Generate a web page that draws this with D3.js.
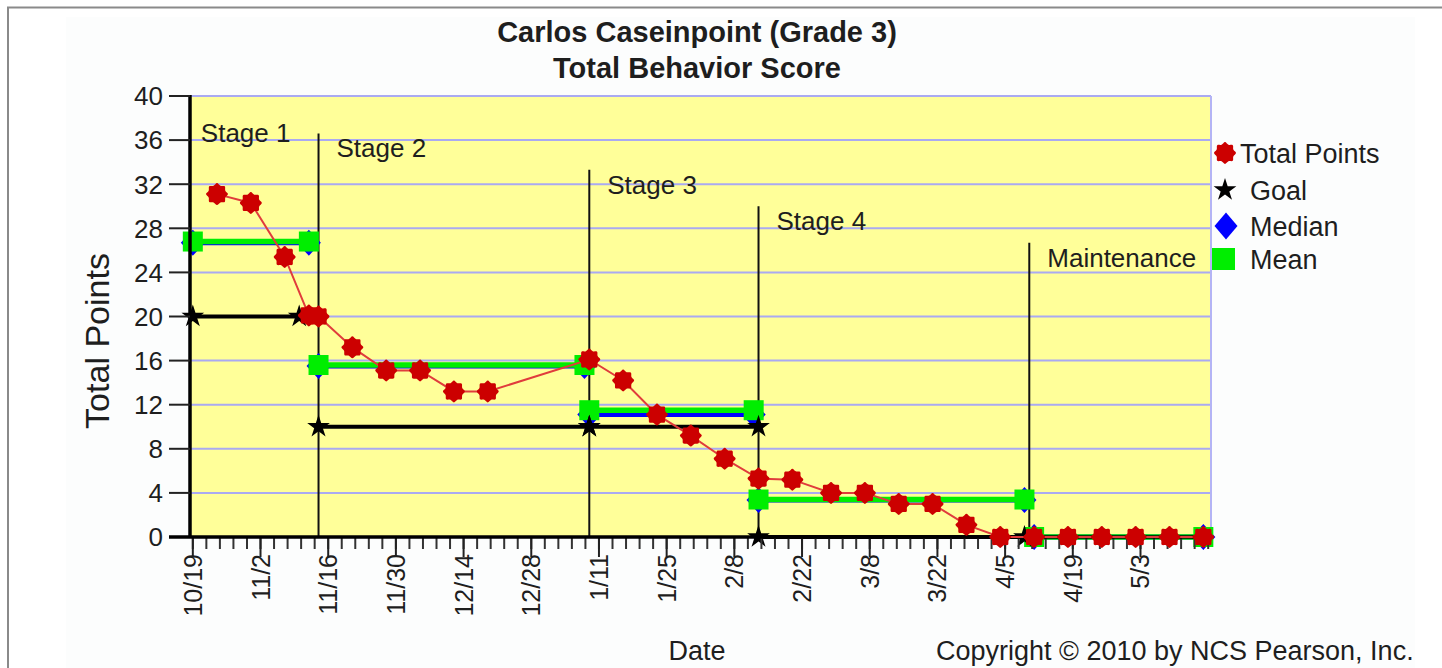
<!DOCTYPE html>
<html>
<head>
<meta charset="utf-8">
<script src="https://cdn.jsdelivr.net/npm/d3@7"></script>
<style>
  body { margin: 0; background: #fff; }
  svg { display: block; font-family: "Liberation Sans", Arial, sans-serif; }
</style>
</head>
<body>
<div id="viz1"></div>
<script>
// Weekly total points
const pointDates = ["2009-10-24", "2009-10-31", "2009-11-07", "2009-11-12", "2009-11-14",
	"2009-11-21", "2009-11-28", "2009-12-05", "2009-12-12", "2009-12-19",
	"2010-01-09", "2010-01-16", "2010-01-23", "2010-01-30", "2010-02-06",
	"2010-02-13", "2010-02-20", "2010-02-28", "2010-03-07", "2010-03-14", "2010-03-21",
	"2010-03-28", "2010-04-04", "2010-04-11", "2010-04-18", "2010-04-25",
	"2010-05-02", "2010-05-09", "2010-05-16"];
const totalPoints = [31.1, 30.3, 25.4, 20.1, 20.0,
	17.2, 15.1, 15.1, 13.2, 13.2,
	16.1, 14.2, 11.1, 9.2, 7.1,
	5.3, 5.2, 4.0, 4.0, 3.0, 3.0,
	1.1, 0, 0, 0, 0,
	0, 0, 0];

// Stages
const stageNames = ["Stage 1", "Stage 2", "Stage 3", "Stage 4", "Maintenance"];
const stageDates = ["2009-10-19", "2009-11-14", "2010-01-09", "2010-02-13", "2010-04-10"];
const stageTops = [38, 36.6, 33.3, 30, 26.7]; // value where each stage line stops

// Stage statistics
const statStart = ["2009-10-19", "2009-11-14", "2010-01-09", "2010-02-13", "2010-04-11"];
const statEnd = ["2009-11-12", "2010-01-08", "2010-02-12", "2010-04-09", "2010-05-16"];
const means = [26.8, 15.6, 11.5, 3.4, 0];
const medians = [26.7, 15.5, 11.1, 3.35, 0];
const goals = [20, 10, 10, 0, null];
const goalEnd = ["2009-11-10", "2010-01-09", "2010-02-13", "2010-04-09", null];

// Axis ticks
const tickDates = ["2009-10-19", "2009-11-02", "2009-11-16", "2009-11-30", "2009-12-14",
	"2009-12-28", "2010-01-11", "2010-01-25", "2010-02-08", "2010-02-22", "2010-03-08",
	"2010-03-22", "2010-04-05", "2010-04-19", "2010-05-03"];
const yTicks = [0, 4, 8, 12, 16, 20, 24, 28, 32, 36, 40];
const legendItems = ["Total Points", "Goal", "Median", "Mean"];

const w = 1442, h = 668;
const margin = {top: 96, bottom: 131, left: 190, right: 231};
const txt = "#1e1e1e";
const parse = d3.utcParse("%Y-%m-%d");
const fmt = d3.utcFormat("%-m/%-d");

const xScale = d3.scaleUtc()
	.domain([Date.UTC(2009, 9, 18, 10), Date.UTC(2010, 4, 17, 14)])
	.range([margin.left, w - margin.right]);

const yScale = d3.scaleLinear()
	.domain([0, 40])
	.range([h - margin.bottom, margin.top]);

const svg = d3.select("#viz1")
	.append("svg")
	.attr("width", w)
	.attr("height", h);

// frame
svg.append("rect").attr("x", 66).attr("y", 17).attr("width", 1349).attr("height", h)
	.attr("fill", "#fcfdfd");
svg.append("path").attr("d", `M8,${h} V7.5 H${w}`)
	.attr("fill", "none").attr("stroke", "#8a8a8a").attr("stroke-width", 2);

// titles
svg.append("text").attr("x", 697).attr("y", 42).attr("text-anchor", "middle")
	.attr("font-size", 29).attr("font-weight", "bold").attr("fill", txt)
	.text("Carlos Caseinpoint (Grade 3)");
svg.append("text").attr("x", 697).attr("y", 78).attr("text-anchor", "middle")
	.attr("font-size", 29).attr("font-weight", "bold").attr("fill", txt)
	.text("Total Behavior Score");

// plot background
const x0 = xScale.range()[0], x1 = xScale.range()[1];
const yb = yScale(0), yt = yScale(40);
svg.append("rect").attr("x", x0).attr("y", yt).attr("width", x1 - x0).attr("height", yb - yt)
	.attr("fill", "#ffff99");

// gridlines
svg.selectAll(".grid")
	.data(yTicks.filter(d => d > 0))
	.enter()
	.append("line")
	.attr("x1", x0).attr("x2", x1)
	.attr("y1", d => yScale(d)).attr("y2", d => yScale(d))
	.attr("stroke", "#aaaaf2").attr("stroke-width", 2);
svg.append("line").attr("x1", x1).attr("x2", x1).attr("y1", yt).attr("y2", yb)
	.attr("stroke", "#b4b4f5").attr("stroke-width", 2);

// stage lines + labels (stage 1 line sits on the y axis)
stageNames.forEach((name, i) => {
	const sx = xScale(parse(stageDates[i]));
	if (i > 0) {
		svg.append("line").attr("x1", sx).attr("x2", sx)
			.attr("y1", yScale(stageTops[i])).attr("y2", yb)
			.attr("stroke", "#111").attr("stroke-width", 2);
	}
	svg.append("text")
		.attr("x", sx + (i === 0 ? 8 : 18))
		.attr("y", yScale(stageTops[i]) + 24)
		.attr("font-size", 26).attr("fill", txt)
		.text(name);
});

// markers
const flower = d3.lineRadial().curve(d3.curveCardinalClosed)
	(d3.range(16).map(i => [i * Math.PI / 8, i % 2 ? 9 : 11]));
const star = d3.symbol().type(d3.symbolStar).size(160)();
const diamond = (hw, hh) => `M0,${-hh}L${hw},0L0,${hh}L${-hw},0Z`;

// median (blue)
medians.forEach((m, i) => {
	const a = xScale(parse(statStart[i])), b = xScale(parse(statEnd[i]));
	svg.append("line").attr("x1", a).attr("x2", b).attr("y1", yScale(m)).attr("y2", yScale(m))
		.attr("stroke", "#0000ff").attr("stroke-width", 5);
	[a, b].forEach(px => svg.append("path").attr("d", diamond(12, 13))
		.attr("transform", `translate(${px},${yScale(m)})`).attr("fill", "#0000ff"));
});

// mean (green)
means.forEach((m, i) => {
	const a = xScale(parse(statStart[i])), b = xScale(parse(statEnd[i]));
	svg.append("line").attr("x1", a).attr("x2", b).attr("y1", yScale(m)).attr("y2", yScale(m))
		.attr("stroke", "#00ee00").attr("stroke-width", 5.5);
	[a, b].forEach(px => svg.append("rect")
		.attr("x", px - 10).attr("y", yScale(m) - 10).attr("width", 20).attr("height", 20)
		.attr("fill", "#00ee00"));
});

// goal (black)
goals.forEach((g, i) => {
	if (g === null) return;
	const a = xScale(parse(statStart[i])), b = xScale(parse(goalEnd[i]));
	svg.append("line").attr("x1", a).attr("x2", b).attr("y1", yScale(g)).attr("y2", yScale(g))
		.attr("stroke", "#000").attr("stroke-width", 4);
	[a, b].forEach(px => svg.append("path").attr("d", star)
		.attr("transform", `translate(${px},${yScale(g)})`).attr("fill", "#000"));
});

// axes
svg.append("line").attr("x1", x0).attr("x2", x0).attr("y1", yt - 1).attr("y2", yb + 1)
	.attr("stroke", "#000").attr("stroke-width", 3.5);
svg.selectAll(".ytick")
	.data(yTicks)
	.enter()
	.append("line")
	.attr("x1", x0 - 21).attr("x2", x0)
	.attr("y1", d => yScale(d)).attr("y2", d => yScale(d))
	.attr("stroke", "#222").attr("stroke-width", 2);
svg.selectAll(".ylab")
	.data(yTicks)
	.enter()
	.append("text")
	.attr("x", 163).attr("y", d => yScale(d)).attr("dy", "0.36em")
	.attr("text-anchor", "end").attr("font-size", 26).attr("fill", txt)
	.text(d => d);

// minor ticks: 5 per two-week span
const majors = tickDates.map(parse);
const minors = [];
const span = 14 * 864e5;
for (let t = +majors[0]; t <= +xScale.domain()[1]; t += span / 5) minors.push(new Date(t));
svg.selectAll(".xminor")
	.data(minors)
	.enter()
	.append("line")
	.attr("x1", d => xScale(d)).attr("x2", d => xScale(d))
	.attr("y1", yb).attr("y2", yb + 12)
	.attr("stroke", "#333").attr("stroke-width", 2);
svg.selectAll(".xmajor")
	.data(majors)
	.enter()
	.append("line")
	.attr("x1", d => xScale(d)).attr("x2", d => xScale(d))
	.attr("y1", yb).attr("y2", yb + 20)
	.attr("stroke", "#222").attr("stroke-width", 2);
svg.selectAll(".xlab")
	.data(majors)
	.enter()
	.append("text")
	.attr("transform", d => `translate(${xScale(d)},${yb + 17}) rotate(-90)`)
	.attr("dy", "0.36em").attr("text-anchor", "end")
	.attr("font-size", 25).attr("fill", txt)
	.text(d => fmt(d));
svg.append("line").attr("x1", x0 - 21).attr("x2", x1).attr("y1", yb).attr("y2", yb)
	.attr("stroke", "#000").attr("stroke-width", 3.5);

// total points series
const pts = pointDates.map((d, i) => ({date: parse(d), v: totalPoints[i]}));
svg.append("path")
	.datum(pts)
	.attr("d", d3.line().x(d => xScale(d.date)).y(d => yScale(d.v)))
	.attr("fill", "none").attr("stroke", "#e03c3c").attr("stroke-width", 2);
svg.selectAll(".pt")
	.data(pts)
	.enter()
	.append("path")
	.attr("d", flower)
	.attr("transform", d => `translate(${xScale(d.date)},${yScale(d.v)})`)
	.attr("fill", "#cc0000");

// axis titles
svg.append("text")
	.attr("transform", "translate(109,341) rotate(-90)")
	.attr("text-anchor", "middle").attr("font-size", 34).attr("fill", txt)
	.text("Total Points");
svg.append("text").attr("x", 697).attr("y", 660).attr("text-anchor", "middle")
	.attr("font-size", 27).attr("fill", txt).text("Date");
svg.append("text").attr("x", 936).attr("y", 660)
	.attr("font-size", 27).attr("fill", txt).text("Copyright © 2010 by NCS Pearson, Inc.");

// legend
const legendY = [153, 190, 226, 259];
const legendTextX = [1240, 1250, 1250, 1250];
const lg = svg.append("g");
lg.append("path").attr("d", flower).attr("transform", `translate(1225,${legendY[0]})`).attr("fill", "#cc0000");
lg.append("path").attr("d", star).attr("transform", `translate(1225,${legendY[1]})`).attr("fill", "#000");
lg.append("path").attr("d", diamond(11.5, 13.5)).attr("transform", `translate(1226,${legendY[2]})`).attr("fill", "#0000ff");
lg.append("rect").attr("x", 1212).attr("y", legendY[3] - 11).attr("width", 23).attr("height", 22).attr("fill", "#00ee00");
lg.selectAll("text")
	.data(legendItems)
	.enter()
	.append("text")
	.attr("x", (d, i) => legendTextX[i])
	.attr("y", (d, i) => legendY[i] + 10)
	.attr("font-size", 27).attr("fill", txt)
	.text(d => d);
</script>
</body>
</html>
